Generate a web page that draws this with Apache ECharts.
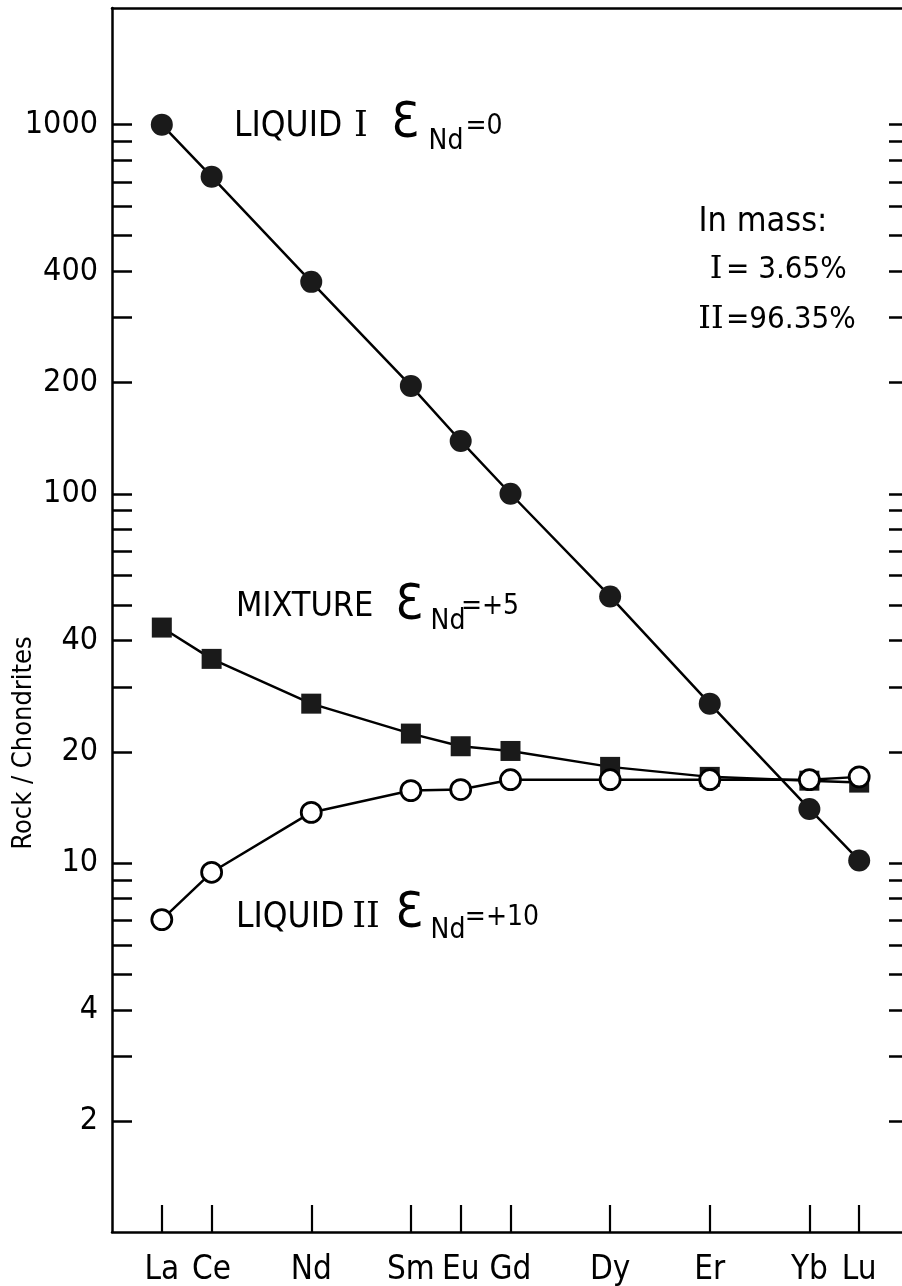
<!DOCTYPE html>
<html><head><meta charset="utf-8">
<script src="https://cdn.jsdelivr.net/npm/echarts@6/dist/echarts.min.js"></script>
<style>html,body{margin:0;padding:0;background:#fff}#c{width:902px;height:1286px}</style>
</head><body><div id="c"></div>
<script>
// ---- data ----
const elements = ['La','Ce','Nd','Sm','Eu','Gd','Dy','Er','Yb','Lu'];
const atomicNumbers = [57,58,60,62,63,64,66,68,70,71];
const liquid1 = [1000,723,375,196,139,100,52.7,27,14.0,10.15];
const mixture = [43.4,35.7,27,22.4,20.7,20.1,18.2,17.1,16.7,16.5];
const liquid2 = [7.02,9.43,13.7,15.7,15.8,16.8,16.8,16.8,16.8,17.1];
const yTickValues = [2,3,4,5,6,7,8,9,10,20,30,40,50,60,70,80,90,100,200,300,400,500,600,700,800,900,1000];
const yLabelValues = [2,4,10,20,40,100,200,400,1000];

const FF = '"DejaVu Sans Condensed","DejaVu Sans",sans-serif';
const SERIF = '"DejaVu Serif",serif';
const pairs = arr => atomicNumbers.map((x,i)=>[x, arr[i]]);

const chart = echarts.init(document.getElementById('c'), null, {renderer:'canvas'});
const axisLineStyle = {color:'#000', width:2.5};
function txt(text, x, y, size, opts) {
  opts = opts || {};
  return {type:'text', x:x, y:y, rotation: opts.rotation || 0, z:10,
    style:{text:text, fontSize:size, fontFamily: opts.family || FF, fill:'#000',
      textAlign: opts.align || 'left', align: opts.align || 'left',
      textVerticalAlign:'middle', verticalAlign:'middle'}};
}
const option = {
  animation:false,
  backgroundColor:'#fff',
  grid:{left:112, top:8, width:797, height:1224, containLabel:false, outerBoundsMode:'none'},
  xAxis:[{
    type:'value', min:56, max:72, position:'bottom',
    axisLine:{show:true, onZero:false, lineStyle:axisLineStyle},
    axisTick:{show:true, inside:true, length:27, customValues:atomicNumbers, lineStyle:{color:'#000', width:2.2}},
    axisLabel:{show:true, customValues:atomicNumbers, margin:22, fontSize:33, fontFamily:FF, color:'#000',
      formatter: v => elements[atomicNumbers.indexOf(v)]},
    splitLine:{show:false}
  },{
    type:'value', min:56, max:72, position:'top',
    axisLine:{show:true, onZero:false, lineStyle:axisLineStyle},
    axisTick:{show:false}, axisLabel:{show:false}, splitLine:{show:false}
  }],
  yAxis:[{
    type:'log', logBase:10, min:1, max:2070, position:'left',
    axisLine:{show:true, onZero:false, lineStyle:axisLineStyle},
    axisTick:{show:true, inside:true, length:20, customValues:yTickValues, lineStyle:{color:'#000', width:2.5}},
    axisLabel:{show:true, customValues:yLabelValues, margin:14, fontSize:32, fontFamily:FF, color:'#000',
      formatter: v => String(Math.round(v))},
    splitLine:{show:false}, minorTick:{show:false}
  },{
    type:'log', logBase:10, min:1, max:2070, position:'right',
    axisLine:{show:true, onZero:false, lineStyle:axisLineStyle},
    axisTick:{show:true, inside:true, length:20, customValues:yTickValues, lineStyle:{color:'#000', width:2.5}},
    axisLabel:{show:false}, splitLine:{show:false}
  }],
  series:[
    {name:'MIXTURE', type:'line', data:pairs(mixture), symbol:'rect', symbolSize:20, z:2,
      itemStyle:{color:'#1a1a1a'}, lineStyle:{color:'#000', width:2.5}},
    {name:'LIQUID II', type:'line', data:pairs(liquid2), symbol:'circle', symbolSize:20, z:3,
      itemStyle:{color:'#fff', borderColor:'#000', borderWidth:2.8}, lineStyle:{color:'#000', width:2.5}},
    {name:'LIQUID I', type:'line', data:pairs(liquid1), symbol:'circle', symbolSize:22, z:4,
      itemStyle:{color:'#1a1a1a'}, lineStyle:{color:'#000', width:2.5}}
  ],
  graphic:[
    txt('Rock / Chondrites', 24, 743, 27, {rotation:Math.PI/2, align:'center'}),
    // LIQUID I
    txt('LIQUID', 234, 127, 35), txt('I', 361, 127, 35, {family:SERIF, align:'center'}),
    txt('Ɛ', 405, 124, 50, {align:'center'}), txt('Nd', 446, 142, 28, {align:'center'}), txt('=0', 484, 127, 28, {align:'center'}),
    // MIXTURE
    txt('MIXTURE', 236, 607, 34),
    txt('Ɛ', 409, 606, 50, {align:'center'}), txt('Nd', 448, 622, 28, {align:'center'}), txt('=+5', 490, 607, 28, {align:'center'}),
    // LIQUID II
    txt('LIQUID', 236, 918, 35), txt('II', 366, 918, 35, {family:SERIF, align:'center'}),
    txt('Ɛ', 409, 914, 50, {align:'center'}), txt('Nd', 448, 931, 28, {align:'center'}), txt('=+10', 502, 918, 28, {align:'center'}),
    // In mass
    txt('In mass:', 763, 222, 34, {align:'center'}),
    txt('I', 716, 270, 32, {family:SERIF, align:'center'}), txt('= 3.65%', 726, 270, 31),
    txt('II', 711, 320, 32, {family:SERIF, align:'center'}), txt('=96.35%', 726, 320, 31)
  ]
};
chart.setOption(option);
</script></body></html>
